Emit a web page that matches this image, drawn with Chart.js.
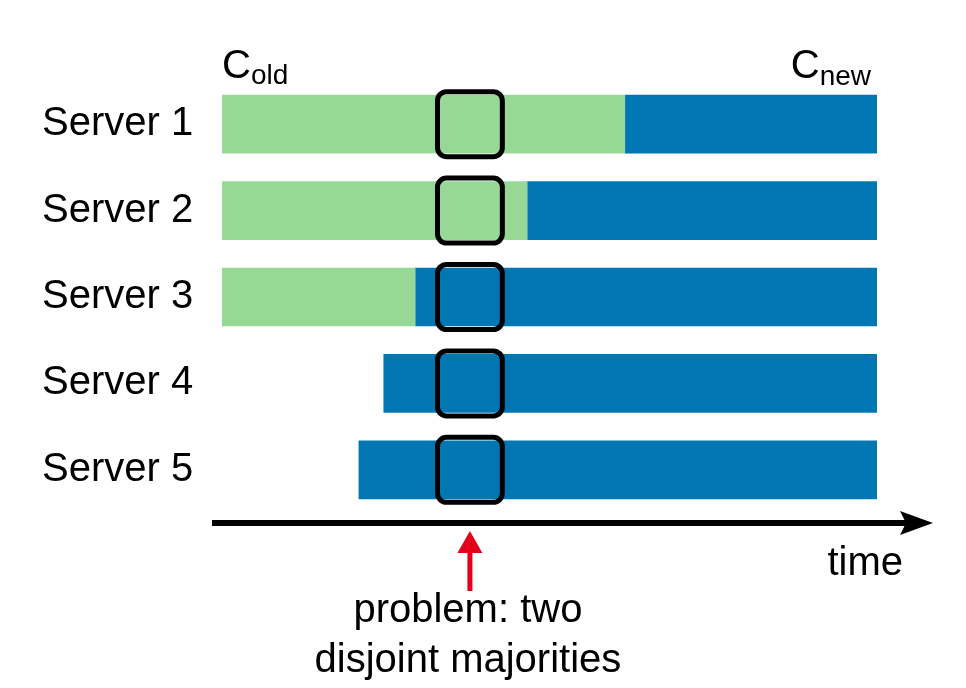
<!DOCTYPE html>
<html>
<head>
<meta charset="utf-8">
<script src="https://cdn.jsdelivr.net/npm/chart.js@4/dist/chart.umd.min.js"></script>
<style>
  html, body { margin: 0; background: #fff; }
  #wrap { width: 966px; height: 688px; }
</style>
</head>
<body>
<div id="wrap"><canvas id="c"></canvas></div>
<script>
// rows and time spans (time runs 0..100 across the plot)
const servers = ['Server 1', 'Server 2', 'Server 3', 'Server 4', 'Server 5'];
const oldSpans = [[0, 61.5], [0, 46.6], [0, 29.5], null, null];
const newSpans = [[61.5, 100], [46.6, 100], [29.5, 100], [24.7, 100], [20.9, 100]];
const problemWindow = [32.9, 42.8];

const FONT = "'Liberation Sans', Arial, Helvetica, sans-serif";
const GREEN = '#97d897';
const BLUE = '#0077b3';
const RED = '#e3001b';

const overlay = {
  id: 'overlay',
  afterDatasetsDraw(chart) {
    const { ctx, chartArea: area, scales: { x } } = chart;
    const meta = chart.getDatasetMeta(1);
    const x1 = x.getPixelForValue(problemWindow[0]);
    const x2 = x.getPixelForValue(problemWindow[1]);

    ctx.save();
    // problem window boxes, one per server
    ctx.strokeStyle = '#000';
    ctx.lineWidth = 5;
    meta.data.forEach(bar => {
      const top = bar.y - bar.height / 2 - 3.5;
      const bottom = bar.y + bar.height / 2 + 3.5;
      ctx.beginPath();
      ctx.roundRect(x1, top, x2 - x1, bottom - top, 9);
      ctx.stroke();
    });

    // time axis with arrow head
    const ay = area.bottom + 10;
    const tip = area.right + 56;
    ctx.fillStyle = '#000';
    ctx.fillRect(area.left - 10, ay - 3, tip - 25 - (area.left - 10), 6);
    ctx.beginPath();
    ctx.moveTo(tip, ay);
    ctx.lineTo(tip - 33, ay - 12);
    ctx.lineTo(tip - 27, ay);
    ctx.lineTo(tip - 33, ay + 12);
    ctx.closePath();
    ctx.fill();

    ctx.font = '40px ' + FONT;
    ctx.textAlign = 'right';
    ctx.textBaseline = 'alphabetic';
    ctx.fillText('time', tip - 30, ay + 52);

    // red pointer under the window
    const px = (x1 + x2) / 2;
    ctx.fillStyle = RED;
    ctx.fillRect(px - 2.5, ay + 28, 5, 40);
    ctx.beginPath();
    ctx.moveTo(px, ay + 8);
    ctx.lineTo(px + 12.5, ay + 30);
    ctx.lineTo(px - 12.5, ay + 30);
    ctx.closePath();
    ctx.fill();

    ctx.fillStyle = '#000';
    ctx.textAlign = 'center';
    ctx.fillText('problem: two', px - 2, ay + 99);
    ctx.fillText('disjoint majorities', px - 2, ay + 149);

    // C_old / C_new headings
    ctx.textAlign = 'left';
    ctx.font = '40px ' + FONT;
    ctx.fillText('C', area.left, area.top - 3);
    const cw = ctx.measureText('C').width;
    ctx.font = '28px ' + FONT;
    ctx.fillText('old', area.left + cw, area.top + 3);

    ctx.textAlign = 'right';
    ctx.font = '28px ' + FONT;
    const nx = area.right - 6;
    ctx.fillText('new', nx, area.top + 4);
    const nw = ctx.measureText('new').width;
    ctx.font = '40px ' + FONT;
    ctx.fillText('C', nx - nw, area.top - 3);
    ctx.restore();
  }
};

new Chart(document.getElementById('c'), {
  type: 'bar',
  data: {
    labels: servers,
    datasets: [
      { label: 'C_old', data: oldSpans, backgroundColor: GREEN },
      { label: 'C_new', data: newSpans, backgroundColor: BLUE },
    ],
  },
  options: {
    indexAxis: 'y',
    responsive: true,
    maintainAspectRatio: false,
    animation: false,
    devicePixelRatio: 1,
    grouped: false,
    barThickness: 58,
    borderSkipped: false,
    layout: { padding: { left: 42, top: 81, right: 89, bottom: 175 } },
    plugins: { legend: { display: false }, tooltip: { enabled: false } },
    scales: {
      x: { type: 'linear', min: 0, max: 100, display: false },
      y: {
        grid: { display: false },
        border: { display: false },
        ticks: { color: '#000', font: { family: FONT, size: 40 }, crossAlign: 'far', padding: 0 },
        afterFit(scale) { scale.width = 180; },
      },
    },
  },
  plugins: [overlay],
});
</script>
</body>
</html>
